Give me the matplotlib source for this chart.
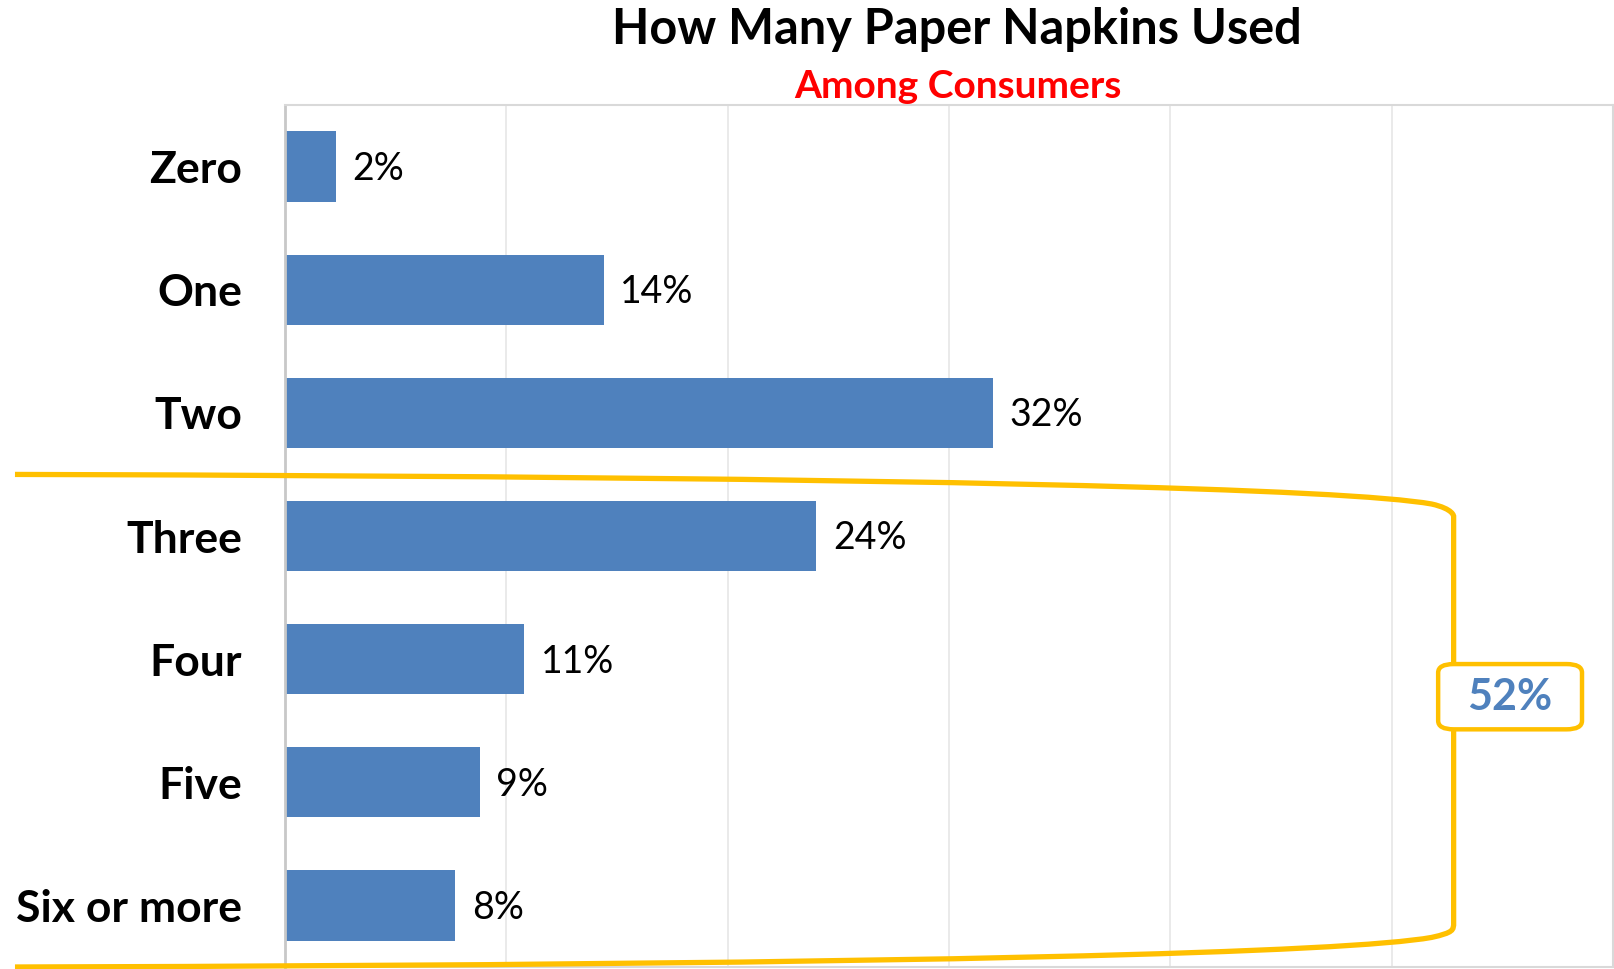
import matplotlib
matplotlib.use("Agg")
import matplotlib.pyplot as plt
from matplotlib.path import Path
from matplotlib.patches import PathPatch, FancyBboxPatch

plt.rcParams['font.family'] = ['Lato', 'DejaVu Sans']

# Data
categories = ['Zero', 'One', 'Two', 'Three', 'Four', 'Five', 'Six or more']
shares = [2.3, 14.4, 32.0, 24.0, 10.8, 8.8, 7.7]
share_labels = ['2%', '14%', '32%', '24%', '11%', '9%', '8%']
bracket_total = '52%'

bar_color = '#4F81BD'
gold = '#FFC000'

fig = plt.figure(figsize=(16.14, 9.69), dpi=100)
ax = fig.add_axes([285 / 1614, 1 - 967 / 969, 1328 / 1614, 862 / 969])

ypos = list(range(len(categories)))
ax.barh(ypos, shares, height=0.57, color=bar_color, zorder=2)
for y, v, lab in zip(ypos, shares, share_labels):
    ax.text(v + 0.75, y + 0.02, lab, va='center', ha='left', fontsize=27,
            color='black')

ax.set_xlim(0, 60)
ax.set_ylim(6.5, -0.5)
ax.set_xticks(range(0, 61, 10))
ax.set_xticklabels([])
ax.set_yticks(ypos)
ax.set_yticklabels(categories, fontsize=32, fontweight='bold')
ax.tick_params(axis='y', length=0, pad=31)
ax.tick_params(axis='x', length=0)
ax.grid(axis='x', color='#E6E6E6', linewidth=1.2, zorder=0)
for s in ['top', 'right', 'bottom']:
    ax.spines[s].set_color('#D9D9D9')
    ax.spines[s].set_linewidth(1.5)
ax.spines['left'].set_color('#C8C8C8')
ax.spines['left'].set_linewidth(2)

# Bracket grouping "Three" .. "Six or more"
xl, xr = -12.2, 52.8
verts = [(xl, 2.5),
         (30, 2.52), (48, 2.62), (51.8, 2.74),
         (52.8, 2.78), (52.8, 2.84), (52.8, 2.84),
         (52.8, 6.14),
         (52.8, 6.2), (52.8, 6.22), (51.8, 6.26),
         (48, 6.38), (30, 6.48), (xl, 6.5)]
codes = [Path.MOVETO,
         Path.CURVE4, Path.CURVE4, Path.CURVE4,
         Path.CURVE4, Path.CURVE4, Path.CURVE4,
         Path.LINETO,
         Path.CURVE4, Path.CURVE4, Path.CURVE4,
         Path.CURVE4, Path.CURVE4, Path.CURVE4]
ax.add_patch(PathPatch(Path(verts, codes), facecolor='none', edgecolor=gold,
                       linewidth=3.8, clip_on=False, zorder=3))

box = FancyBboxPatch((52.1, 4.04), 6.5, 0.53,
                     boxstyle='round,pad=0,rounding_size=0.7',
                     mutation_aspect=0.1,
                     facecolor='white', edgecolor=gold, linewidth=3.2,
                     clip_on=False, zorder=4)
ax.add_patch(box)
ax.text(55.35, 4.31, bracket_total, ha='center', va='center', fontsize=31,
        fontweight='bold', color=bar_color, zorder=5)

fig.text(957 / 1614, 1 - 29 / 969, 'How Many Paper Napkins Used', ha='center',
         va='center', fontsize=35, fontweight='bold', color='black')
fig.text(958 / 1614, 1 - 87 / 969, 'Among Consumers', ha='center',
         va='center', fontsize=28, fontweight='bold', color='#FF0000')

fig.savefig('out.png', dpi=100)
